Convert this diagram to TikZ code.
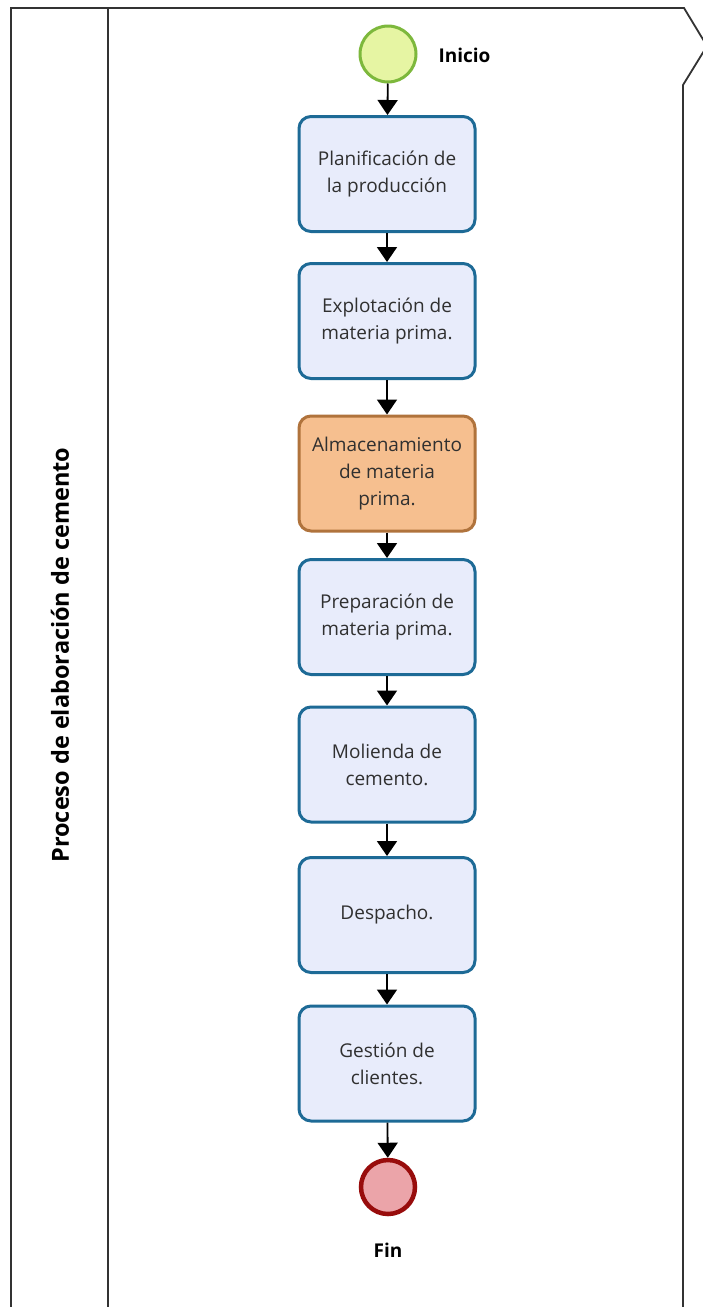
\documentclass[tikz,border=0pt]{standalone}
\usepackage{fontspec}
\setmainfont{Open Sans}
\usetikzlibrary{arrows.meta}
\definecolor{taskfill}{HTML}{E8ECFB}
\definecolor{taskline}{HTML}{1D6A96}
\definecolor{storefill}{HTML}{F6BF8F}
\definecolor{storeline}{HTML}{B0733C}
\definecolor{startfill}{HTML}{E6F5A3}
\definecolor{startline}{HTML}{7DB83C}
\definecolor{endfill}{HTML}{EBA4A9}
\definecolor{endline}{HTML}{980C0C}
\definecolor{lanecol}{HTML}{333333}
\definecolor{txt}{HTML}{303030}
\tikzset{
  task/.style={draw=taskline, fill=taskfill, line width=3pt, rounded corners=12pt,
    minimum width=176pt, minimum height=115pt, align=center, text=txt,
    font=\fontsize{19}{27}\selectfont},
  store/.style={task, draw=storeline, fill=storefill},
  startev/.style={circle, draw=startline, fill=startfill, line width=3pt, minimum size=56pt, inner sep=0pt},
  endev/.style={circle, draw=endline, fill=endfill, line width=4.5pt, minimum size=54pt, inner sep=0pt},
  evlabel/.style={font=\bfseries\fontsize{19}{22}\selectfont, text=black},
  flow/.style={draw=black, line width=1.8pt, -{Triangle[width=20pt,length=15pt]}},
  lane/.style={draw=lanecol, line width=1.8pt}
}
\begin{document}
\begin{tikzpicture}[x=1pt,y=-1pt]
\useasboundingbox (0,0) rectangle (703,1307);
\fill[white] (0,0) rectangle (703,1307);
\begin{scope}
\clip (0,0) rectangle (703,1307);
% pool outline with chevron on the right
\draw[lane] (11,1315) -- (11,8) -- (684,8) -- (707,46) -- (683,85) -- (683,1315);
\draw[lane] (108,8) -- (108,1315);
\end{scope}
\node[rotate=90, font=\bfseries\fontsize{23.5}{28}\selectfont, text=black] (lanename) at (60,655) {Proceso de elaboración de cemento};

\node[startev] (start) at (388,54) {};
\node[evlabel, anchor=west] (startlbl) at (435,55) {Inicio};
\node[task] (t1) at (387,174) {Planificación de\\la producción};
\node[task] (t2) at (387,321) {Explotación de\\materia prima.};
\node[store] (t3) at (387,473.5) {Almacenamiento\\de materia\\prima.};
\node[task] (t4) at (387,617) {Preparación de\\materia prima.};
\node[task] (t5) at (387,764.5) {Molienda de\\cemento.};
\node[task] (t6) at (387,915) {Despacho.};
\node[task] (t7) at (387,1063.5) {Gestión de\\clientes.};
\node[endev] (end) at (388,1187) {};
\node[evlabel] (endlbl) at (388,1250) {Fin};

\draw[flow] (start) -- (t1);
\draw[flow] (t1) -- (t2);
\draw[flow] (t2) -- (t3);
\draw[flow] (t3) -- (t4);
\draw[flow] (t4) -- (t5);
\draw[flow] (t5) -- (t6);
\draw[flow] (t6) -- (t7);
\draw[flow] (t7) -- (end);
\end{tikzpicture}
\end{document}
